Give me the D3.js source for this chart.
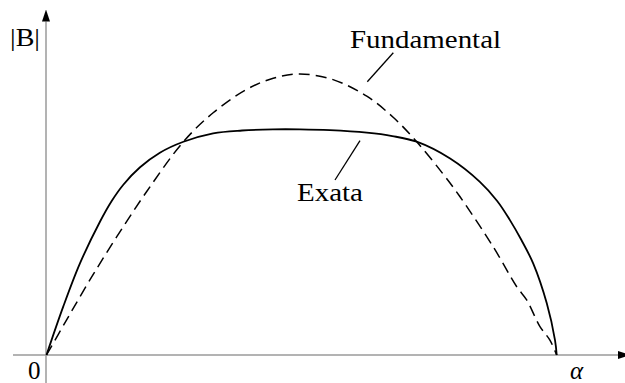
<!DOCTYPE html>
<html>
<head>
<meta charset="utf-8">
<script src="https://cdn.jsdelivr.net/npm/d3@7"></script>
<style>
  html, body { margin: 0; padding: 0; background: #fff; }
  svg { display: block; }
  text { font-family: "Liberation Serif", "DejaVu Serif", serif; fill: #000; }
</style>
</head>
<body>
<svg id="chart" width="625" height="383"></svg>
<script>
// Angle α in degrees (0 … 180) and normalised amplitude |B|.
const fundamentalAlpha = [0, 7.1, 15.3, 24.8, 35.3, 48.3, 58.8, 70.6, 80, 89.4, 101.1, 113.0, 122.4, 130.6, 140.0, 145.9, 157.6, 165.9, 169.4, 174.1, 177.6, 180];
const fundamentalB     = [0, 0.125, 0.267, 0.421, 0.581, 0.759, 0.862, 0.945, 0.985, 1.0, 0.980, 0.921, 0.845, 0.759, 0.643, 0.563, 0.385, 0.243, 0.196, 0.101, 0.053, 0];

const exactAlpha = [0, 5.9, 11.8, 18.9, 23.0, 27.1, 33.0, 40.0, 48.3, 58.8, 69.0, 79.9, 89.4, 100.0, 113.0, 122.0, 130.6, 142.4, 152.9, 159.0, 163.5, 167.5, 171.7, 176.5, 179.4, 180];
const exactB     = [0, 0.172, 0.326, 0.475, 0.548, 0.606, 0.668, 0.720, 0.759, 0.789, 0.799, 0.803, 0.803, 0.800, 0.791, 0.779, 0.759, 0.699, 0.616, 0.548, 0.480, 0.410, 0.326, 0.184, 0.053, 0];

const axisLabels = { y: "|B|", x: "α", origin: "0" };
const curveLabels = ["Fundamental", "Exata"];

const svg = d3.select("#chart");

const x = d3.scaleLinear().domain([0, 180]).range([46.5, 556.7]);
const y = d3.scaleLinear().domain([0, 1]).range([355, 74]);

const x0 = x(0), y0 = y(0);

// Arrowhead marker
svg.append("defs").append("marker")
  .attr("id", "arrow")
  .attr("viewBox", "0 0 12 8")
  .attr("refX", 0).attr("refY", 4)
  .attr("markerWidth", 12).attr("markerHeight", 8)
  .attr("markerUnits", "userSpaceOnUse")
  .attr("orient", "auto")
  .append("path")
  .attr("d", "M0,0 L12,4 L0,8 Z")
  .attr("fill", "#000");

// Axes
svg.append("line")
  .attr("x1", 13).attr("y1", y0)
  .attr("x2", 618).attr("y2", y0)
  .attr("stroke", "#9a9a9a").attr("stroke-width", 1.5)
  .attr("marker-end", "url(#arrow)");

svg.append("line")
  .attr("x1", x0 - 0.5).attr("y1", 383)
  .attr("x2", x0 - 0.5).attr("y2", 21.5)
  .attr("stroke", "#9a9a9a").attr("stroke-width", 1.5)
  .attr("marker-end", "url(#arrow)");

const line = d3.line()
  .x(d => x(d[0]))
  .y(d => y(d[1]))
  .curve(d3.curveCatmullRom.alpha(0.5));

const fundamental = fundamentalAlpha.map((a, i) => [a, fundamentalB[i]]);
const exact = exactAlpha.map((a, i) => [a, exactB[i]]);

svg.append("path")
  .datum(fundamental)
  .attr("d", line)
  .attr("fill", "none")
  .attr("stroke", "#000")
  .attr("stroke-width", 1.5)
  .attr("stroke-dasharray", "11,6");

svg.append("path")
  .datum(exact)
  .attr("d", line)
  .attr("fill", "none")
  .attr("stroke", "#000")
  .attr("stroke-width", 1.8);

// Leader lines for curve labels
svg.append("line")
  .attr("x1", 393.3).attr("y1", 52.7)
  .attr("x2", 367.3).attr("y2", 81.7)
  .attr("stroke", "#000").attr("stroke-width", 1.3);

svg.append("line")
  .attr("x1", 360).attr("y1", 140.7)
  .attr("x2", 335).attr("y2", 180)
  .attr("stroke", "#000").attr("stroke-width", 1.3);

// Text labels
svg.append("text")
  .attr("x", 350).attr("y", 48)
  .attr("font-size", 25)
  .attr("textLength", 151).attr("lengthAdjust", "spacingAndGlyphs")
  .text(curveLabels[0]);

svg.append("text")
  .attr("x", 297).attr("y", 200.5)
  .attr("font-size", 25)
  .attr("textLength", 66).attr("lengthAdjust", "spacingAndGlyphs")
  .text(curveLabels[1]);

svg.append("text")
  .attr("x", 10).attr("y", 46)
  .attr("font-size", 25)
  .attr("textLength", 30).attr("lengthAdjust", "spacingAndGlyphs")
  .text(axisLabels.y);

svg.append("text")
  .attr("x", 28).attr("y", 379)
  .attr("font-size", 25)
  .text(axisLabels.origin);

svg.append("text")
  .attr("x", 570).attr("y", 379)
  .attr("font-size", 25)
  .attr("font-style", "italic")
  .text(axisLabels.x);
</script>
</body>
</html>
